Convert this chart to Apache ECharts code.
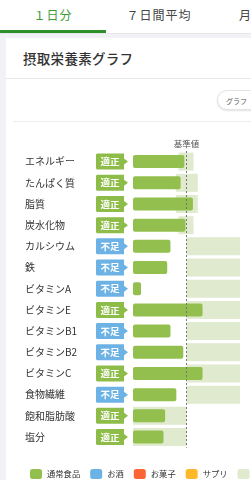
<!DOCTYPE html>
<html><head><meta charset="utf-8">
<script src="https://cdn.jsdelivr.net/npm/echarts@6/dist/echarts.min.js"></script>
<style>
html,body{margin:0;padding:0;width:251px;height:480px;overflow:hidden;background:#f2f2f6;font-family:"Noto Sans CJK JP","Noto Sans",sans-serif;}
#tabs{position:absolute;left:0;top:0;width:251px;height:33px;background:#fff;border-bottom:1px solid #e6e6ea;}
.tab{position:absolute;top:0;width:106px;height:30px;line-height:30px;text-align:center;font-size:12px;color:#444;letter-spacing:1px;white-space:nowrap;}
#ul{position:absolute;left:0;top:30px;width:106px;height:3px;background:#2f8f2a;}
#card{position:absolute;left:6px;top:38px;width:260px;height:460px;background:#fff;}
#title{position:absolute;left:17px;top:10px;font-size:13.5px;color:#333;font-weight:500;letter-spacing:0.3px;}
#div1{position:absolute;left:0;top:40px;width:260px;height:1px;background:#e6e6e6;}
#btn{position:absolute;left:211px;top:52px;width:46px;height:20px;border-radius:10px;border:1px solid #e3e3e3;box-shadow:0 1px 2px rgba(0,0,0,0.12);background:#fff;font-size:7px;color:#555;line-height:20px;padding-left:8px;box-sizing:border-box;}
#div2{position:absolute;left:7px;top:83px;width:260px;height:1px;background:#eeeeee;}
#chart{position:absolute;left:0;top:0;width:251px;height:480px;}
</style></head>
<body>
<div id="tabs">
  <div class="tab" style="left:0;color:#3d9b35;">１日分</div>
  <div class="tab" style="left:106px;">７日間平均</div>
  <div class="tab" style="left:212px;">月間平均</div>
  <div id="ul"></div>
</div>
<div id="card">
  <div id="title">摂取栄養素グラフ</div>
  <div id="div1"></div>
  <div id="btn">グラフ</div>
  <div id="div2"></div>
</div>
<div id="chart"></div>
<script>
// ---- data ----
const categories = ['エネルギー','たんぱく質','脂質','炭水化物','カルシウム','鉄','ビタミンA','ビタミンE','ビタミンB1','ビタミンB2','ビタミンC','食物繊維','飽和脂肪酸','塩分'];
const intake = [96, 89, 112, 98, 70, 64, 15, 130, 70, 94, 130, 81, 60, 57]; // % of 基準値
const status = ['適正','適正','適正','適正','不足','不足','不足','適正','不足','不足','適正','不足','適正','適正'];
const rangeLow  = [85, 80, 80, 85, 100, 100, 100, 100, 100, 100, 100, 100, 0, 0];
const rangeHigh = [113, 121, 121, 113, 200, 200, 200, 200, 200, 200, 200, 200, 100, 100];
const legendNames = ['通常食品','お酒','お菓子','サプリ','適正範囲'];
const refValue = 100;
const refLabel = '基準値';

const C = {green:'#93bf4e', badgeGreen:'#8dbc48', blue:'#6db2e4', orange:'#fb6634', yellow:'#ffb82a', range:'#dfeacf'};

const chart = echarts.init(document.getElementById('chart'), null, {renderer:'canvas'});
const rangeSpan = rangeHigh.map((h,i)=>h-rangeLow[i]);

const option = {
  animation:false,
  textStyle:{fontFamily:'"Noto Sans CJK JP","Noto Sans",sans-serif'},
  grid:{left:133, right:11, top:151, bottom:32.4, containLabel:false},
  xAxis:{type:'value', min:0, max:200, show:false},
  yAxis:[
    {type:'category', data:categories, inverse:true, axisLine:{show:false}, axisTick:{show:false},
     axisLabel:{align:'left', margin:108, fontSize:10, color:'#333'}},
    {type:'category', data:categories, inverse:true, show:false}
  ],
  legend:{
    data:legendNames.map(n=>({name:n, icon:'roundRect'})),
    left:25, top:464, width:600, itemWidth:12, itemHeight:10, itemGap:10,
    textStyle:{fontSize:8.3, color:'#333'}, selectedMode:false
  },
  series:[
    {name:'base', type:'bar', stack:'range', yAxisIndex:0, barWidth:18, silent:true,
     itemStyle:{color:'transparent'}, data:rangeLow},
    {name:'適正範囲', type:'bar', stack:'range', yAxisIndex:0, barWidth:18, silent:true,
     itemStyle:{color:C.range}, data:rangeSpan,
     markLine:{symbol:'none', silent:true,
       lineStyle:{color:'#777', type:[2,2], width:1},
       label:{show:true, position:'start', formatter:refLabel, fontSize:8.5, color:'#555', distance:3},
       data:[{xAxis:refValue}]}},
    {name:'通常食品', type:'bar', stack:'intake', yAxisIndex:1, barWidth:13,
     itemStyle:{color:C.green, borderRadius:2}, data:intake, z:3},
    {name:'お酒', type:'bar', stack:'intake', yAxisIndex:1, barWidth:13, itemStyle:{color:C.blue}, data:[]},
    {name:'お菓子', type:'bar', stack:'intake', yAxisIndex:1, barWidth:13, itemStyle:{color:C.orange}, data:[]},
    {name:'サプリ', type:'bar', stack:'intake', yAxisIndex:1, barWidth:13, itemStyle:{color:C.yellow}, data:[]},
    {name:'badge', type:'custom', yAxisIndex:0, silent:true, z:4,
     data:status.map((s,i)=>[i, s]),
     encode:{y:0},
     renderItem:function(params, api){
       const idx = api.value(0);
       const s = status[idx];
       const p = api.coord([0, idx]);
       const x0 = p[0]-37, x1 = p[0]-9, tip = p[0]-5, y = p[1];
       const col = s==='不足' ? C.blue : C.badgeGreen;
       return {type:'group', children:[
         {type:'polygon', shape:{points:[[x0+1,y-8],[x1,y-8],[x1,y-3],[tip,y],[x1,y+3],[x1,y+8],[x0+1,y+8],[x0,y+7],[x0,y-7]]},
          style:{fill:col}},
         {type:'text', style:{text:s, x:(x0+x1)/2, y:y, align:'center', verticalAlign:'middle', fill:'#fff', fontSize:9.5, fontWeight:'bold',
          fontFamily:'"Noto Sans CJK JP",sans-serif'}}
       ]};
     }}
  ]
};
chart.setOption(option);
</script>
</body></html>
